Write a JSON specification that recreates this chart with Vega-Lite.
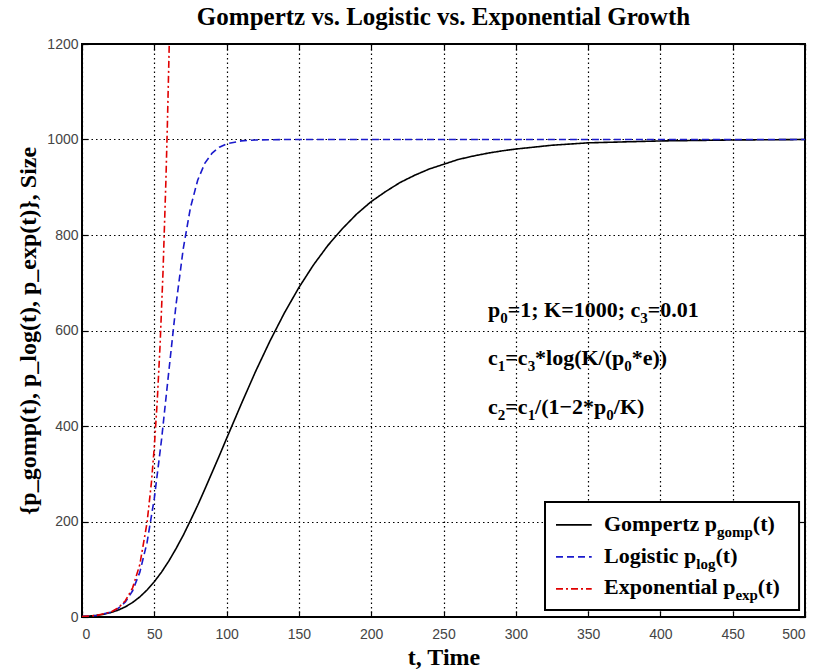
{
  "$schema": "https://vega.github.io/schema/vega-lite/v6.json",
  "width": 723,
  "height": 573,
  "autosize": {"type": "none"},
  "padding": {"left": 82, "top": 44, "right": 16, "bottom": 54},
  "background": "white",
  "title": {"text": "Gompertz vs. Logistic vs. Exponential Growth", "font": "Liberation Serif", "fontWeight": "bold", "fontSize": 25, "color": "black", "anchor": "middle", "offset": 7},
  "config": {"view": {"stroke": "black", "strokeWidth": 2}},
  "datasets": {
    "curves": [
      {"series": "Gompertz", "t": 0, "p": 1}, {"series": "Gompertz", "t": 5, "p": 1.9}, {"series": "Gompertz", "t": 10, "p": 3.4}, {"series": "Gompertz", "t": 15, "p": 5.8}, {"series": "Gompertz", "t": 20, "p": 9.3}, {"series": "Gompertz", "t": 25, "p": 14.4}, {"series": "Gompertz", "t": 30, "p": 21.3}, {"series": "Gompertz", "t": 35, "p": 30.5}, {"series": "Gompertz", "t": 40, "p": 42.1}, {"series": "Gompertz", "t": 45, "p": 56.6}, {"series": "Gompertz", "t": 50, "p": 73.9}, {"series": "Gompertz", "t": 55, "p": 94}, {"series": "Gompertz", "t": 60, "p": 117}, {"series": "Gompertz", "t": 65, "p": 143}, {"series": "Gompertz", "t": 70, "p": 171}, {"series": "Gompertz", "t": 75, "p": 202}, {"series": "Gompertz", "t": 80, "p": 234}, {"series": "Gompertz", "t": 85, "p": 268}, {"series": "Gompertz", "t": 90, "p": 303}, {"series": "Gompertz", "t": 95, "p": 338}, {"series": "Gompertz", "t": 100, "p": 374}, {"series": "Gompertz", "t": 110, "p": 445}, {"series": "Gompertz", "t": 120, "p": 514}, {"series": "Gompertz", "t": 130, "p": 578}, {"series": "Gompertz", "t": 140, "p": 637}, {"series": "Gompertz", "t": 150, "p": 690}, {"series": "Gompertz", "t": 160, "p": 737}, {"series": "Gompertz", "t": 170, "p": 778}, {"series": "Gompertz", "t": 180, "p": 813}, {"series": "Gompertz", "t": 190, "p": 844}, {"series": "Gompertz", "t": 200, "p": 870}, {"series": "Gompertz", "t": 210, "p": 891}, {"series": "Gompertz", "t": 220, "p": 910}, {"series": "Gompertz", "t": 230, "p": 925}, {"series": "Gompertz", "t": 240, "p": 938}, {"series": "Gompertz", "t": 250, "p": 948}, {"series": "Gompertz", "t": 260, "p": 958}, {"series": "Gompertz", "t": 270, "p": 965}, {"series": "Gompertz", "t": 280, "p": 971}, {"series": "Gompertz", "t": 290, "p": 976}, {"series": "Gompertz", "t": 300, "p": 980}, {"series": "Gompertz", "t": 325, "p": 988}, {"series": "Gompertz", "t": 350, "p": 993}, {"series": "Gompertz", "t": 375, "p": 995}, {"series": "Gompertz", "t": 400, "p": 997}, {"series": "Gompertz", "t": 450, "p": 999}, {"series": "Gompertz", "t": 500, "p": 1000},
      {"series": "Logistic", "t": 0, "p": 1}, {"series": "Logistic", "t": 10, "p": 3.2}, {"series": "Logistic", "t": 20, "p": 10.1}, {"series": "Logistic", "t": 25, "p": 17.9}, {"series": "Logistic", "t": 30, "p": 31.5}, {"series": "Logistic", "t": 35, "p": 54.9}, {"series": "Logistic", "t": 40, "p": 93.9}, {"series": "Logistic", "t": 45, "p": 156.2}, {"series": "Logistic", "t": 50, "p": 248.4}, {"series": "Logistic", "t": 55, "p": 371.3}, {"series": "Logistic", "t": 60, "p": 513.3}, {"series": "Logistic", "t": 65, "p": 653.3}, {"series": "Logistic", "t": 70, "p": 771}, {"series": "Logistic", "t": 75, "p": 857.3}, {"series": "Logistic", "t": 80, "p": 914.8}, {"series": "Logistic", "t": 85, "p": 950.5}, {"series": "Logistic", "t": 90, "p": 971.6}, {"series": "Logistic", "t": 95, "p": 983.9}, {"series": "Logistic", "t": 100, "p": 990.9}, {"series": "Logistic", "t": 110, "p": 997.1}, {"series": "Logistic", "t": 120, "p": 999.1}, {"series": "Logistic", "t": 140, "p": 999.9}, {"series": "Logistic", "t": 200, "p": 1000}, {"series": "Logistic", "t": 300, "p": 1000}, {"series": "Logistic", "t": 400, "p": 1000}, {"series": "Logistic", "t": 500, "p": 1000},
      {"series": "Exponential", "t": 0, "p": 1}, {"series": "Exponential", "t": 10, "p": 3.2}, {"series": "Exponential", "t": 20, "p": 10.5}, {"series": "Exponential", "t": 25, "p": 18.9}, {"series": "Exponential", "t": 30, "p": 34}, {"series": "Exponential", "t": 35, "p": 61.1}, {"series": "Exponential", "t": 40, "p": 109.9}, {"series": "Exponential", "t": 45, "p": 197.9}, {"series": "Exponential", "t": 48, "p": 281.5}, {"series": "Exponential", "t": 50, "p": 356.2}, {"series": "Exponential", "t": 52, "p": 450.3}, {"series": "Exponential", "t": 54, "p": 569.9}, {"series": "Exponential", "t": 56, "p": 720.5}, {"series": "Exponential", "t": 58, "p": 911.4}, {"series": "Exponential", "t": 59, "p": 1025}, {"series": "Exponential", "t": 60.34, "p": 1200}
    ],
    "legendBox": [{"t1": 320.2, "t2": 495.9, "p1": 14.7, "p2": 240.8}],
    "legendLines": [
      {"series": "Gompertz", "t1": 327.8, "t2": 352.5, "p": 193},
      {"series": "Logistic", "t1": 327.8, "t2": 352.5, "p": 126},
      {"series": "Exponential", "t1": 327.8, "t2": 352.5, "p": 59}
    ],
    "mainText": [
      {"label": "Gompertz p", "t": 361, "p": 195},
      {"label": "(t)", "t": 463.9, "p": 195},
      {"label": "Logistic p", "t": 361, "p": 128},
      {"label": "(t)", "t": 438.1, "p": 128},
      {"label": "Exponential p", "t": 361, "p": 62},
      {"label": "(t)", "t": 467.4, "p": 62},
      {"label": "p", "t": 280.8, "p": 643},
      {"label": "=1; K=1000; c", "t": 294.4, "p": 643},
      {"label": "=0.01", "t": 391.3, "p": 643},
      {"label": "c", "t": 280.8, "p": 542},
      {"label": "=c", "t": 292.7, "p": 542},
      {"label": "*log(K/(p", "t": 313.3, "p": 542},
      {"label": "*e))", "t": 380.2, "p": 542},
      {"label": "c", "t": 280.8, "p": 440},
      {"label": "=c", "t": 292.7, "p": 440},
      {"label": "/(1−2*p", "t": 313.3, "p": 440},
      {"label": "/K)", "t": 367.8, "p": 440}
    ],
    "subText": [
      {"label": "gomp", "t": 439.1, "p": 195},
      {"label": "log", "t": 424.8, "p": 128},
      {"label": "exp", "t": 451.9, "p": 62},
      {"label": "0", "t": 289.2, "p": 643},
      {"label": "3", "t": 386.1, "p": 643},
      {"label": "1", "t": 287.6, "p": 542},
      {"label": "3", "t": 308.2, "p": 542},
      {"label": "0", "t": 375.0, "p": 542},
      {"label": "2", "t": 287.6, "p": 440},
      {"label": "1", "t": 308.2, "p": 440},
      {"label": "0", "t": 362.6, "p": 440}
    ]
  },
  "layer": [
    {
      "data": {"name": "legendBox"},
      "mark": {"type": "point", "opacity": 0},
      "encoding": {
        "x": {"field": "t1", "type": "quantitative", "scale": {"domain": [0, 500], "nice": false, "zero": false},
          "axis": {"orient": "top", "values": [0, 50, 100, 150, 200, 250, 300, 350, 400, 450, 500], "labels": false, "title": null, "grid": false, "domain": false, "tickSize": -6, "tickColor": "black", "tickWidth": 1.2}},
        "y": {"field": "p1", "type": "quantitative", "scale": {"domain": [0, 1200], "nice": false, "zero": false},
          "axis": {"orient": "right", "values": [0, 200, 400, 600, 800, 1000, 1200], "labels": false, "title": null, "grid": false, "domain": false, "tickSize": -6, "tickColor": "black", "tickWidth": 1.2}}
      }
    },
    {
      "data": {"name": "curves"},
      "mark": {"type": "line", "strokeWidth": 1.6, "clip": true},
      "encoding": {
        "x": {"field": "t", "type": "quantitative", "scale": {"domain": [0, 500], "nice": false, "zero": false},
          "axis": {"orient": "bottom", "values": [0, 50, 100, 150, 200, 250, 300, 350, 400, 450, 500], "format": "d", "grid": true, "gridColor": "black", "gridDash": [1.5, 3], "gridOpacity": 1, "gridWidth": 1.2, "domain": false, "tickSize": -6, "tickColor": "black", "tickWidth": 1.2, "labelPadding": 16, "labelFont": "Liberation Sans", "labelFontSize": 14, "labelColor": "#444", "title": "t, Time", "titleFont": "Liberation Serif", "titleFontWeight": "bold", "titleFontSize": 24, "titleColor": "black", "titlePadding": 4}},
        "y": {"field": "p", "type": "quantitative", "scale": {"domain": [0, 1200], "nice": false, "zero": false},
          "axis": {"orient": "left", "values": [0, 200, 400, 600, 800, 1000, 1200], "format": "d", "grid": true, "gridColor": "black", "gridDash": [1.5, 3], "gridOpacity": 1, "gridWidth": 1.2, "domain": false, "tickSize": -6, "tickColor": "black", "tickWidth": 1.2, "labelPadding": 10, "labelFont": "Liberation Sans", "labelFontSize": 14, "labelColor": "#444", "title": "{p_gomp(t), p_log(t), p_exp(t)}, Size", "titleFont": "Liberation Serif", "titleFontWeight": "bold", "titleFontSize": 24, "titleColor": "black", "titlePadding": 6}},
        "color": {"field": "series", "type": "nominal", "scale": {"domain": ["Gompertz", "Logistic", "Exponential"], "range": ["black", "#1a1acc", "#e00000"]}, "legend": null},
        "strokeDash": {"field": "series", "type": "nominal", "scale": {"domain": ["Gompertz", "Logistic", "Exponential"], "range": [[1, 0], [7, 4], [7, 3, 2, 3]]}, "legend": null}
      }
    },
    {
      "data": {"name": "legendBox"},
      "mark": {"type": "rect", "fill": "white", "stroke": "black", "strokeWidth": 2},
      "encoding": {
        "x": {"field": "t1", "type": "quantitative", "scale": {"domain": [0, 500], "nice": false, "zero": false}, "axis": null},
        "x2": {"field": "t2"},
        "y": {"field": "p1", "type": "quantitative", "scale": {"domain": [0, 1200], "nice": false, "zero": false}, "axis": null},
        "y2": {"field": "p2"}
      }
    },
    {
      "data": {"name": "legendLines"},
      "mark": {"type": "rule", "strokeWidth": 1.6},
      "encoding": {
        "x": {"field": "t1", "type": "quantitative", "scale": {"domain": [0, 500], "nice": false, "zero": false}, "axis": null},
        "x2": {"field": "t2"},
        "y": {"field": "p", "type": "quantitative", "scale": {"domain": [0, 1200], "nice": false, "zero": false}, "axis": null},
        "color": {"field": "series", "type": "nominal", "scale": {"domain": ["Gompertz", "Logistic", "Exponential"], "range": ["black", "#1a1acc", "#e00000"]}, "legend": null},
        "strokeDash": {"field": "series", "type": "nominal", "scale": {"domain": ["Gompertz", "Logistic", "Exponential"], "range": [[1, 0], [7, 4], [7, 3, 2, 3]]}, "legend": null}
      }
    },
    {
      "data": {"name": "mainText"},
      "mark": {"type": "text", "align": "left", "baseline": "middle", "font": "Liberation Serif", "fontWeight": "bold", "fontSize": 22, "color": "black"},
      "encoding": {
        "x": {"field": "t", "type": "quantitative", "scale": {"domain": [0, 500], "nice": false, "zero": false}, "axis": null},
        "y": {"field": "p", "type": "quantitative", "scale": {"domain": [0, 1200], "nice": false, "zero": false}, "axis": null},
        "text": {"field": "label"}
      }
    },
    {
      "data": {"name": "subText"},
      "mark": {"type": "text", "align": "left", "baseline": "middle", "dy": 8, "font": "Liberation Serif", "fontWeight": "bold", "fontSize": 15, "color": "black"},
      "encoding": {
        "x": {"field": "t", "type": "quantitative", "scale": {"domain": [0, 500], "nice": false, "zero": false}, "axis": null},
        "y": {"field": "p", "type": "quantitative", "scale": {"domain": [0, 1200], "nice": false, "zero": false}, "axis": null},
        "text": {"field": "label"}
      }
    }
  ],
  "resolve": {"axis": {"x": "independent", "y": "independent"}}
}
